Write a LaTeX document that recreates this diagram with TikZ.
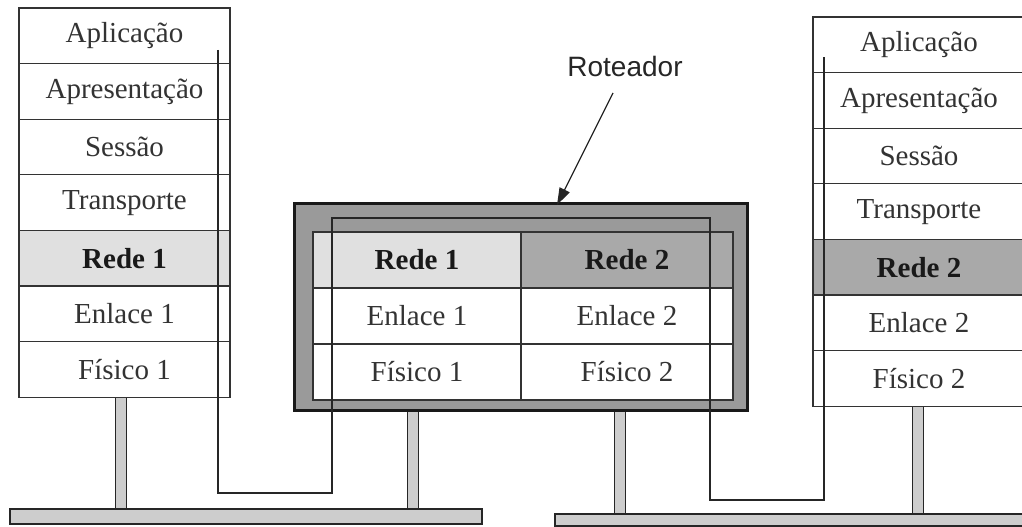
\documentclass[tikz,border=0pt]{standalone}
\usepackage{fontspec}
\setmainfont{Liberation Serif}
\newfontfamily\labelfont{Liberation Sans}
\usetikzlibrary{arrows.meta}

\definecolor{inkgray}{HTML}{333333}
\definecolor{netone}{HTML}{E0E0E0}
\definecolor{nettwo}{HTML}{A9A9A9}
\definecolor{framegray}{HTML}{9A9A9A}
\definecolor{stemgray}{HTML}{CDCDCD}

\tikzset{
  layer/.style={draw=black!80, line width=1.2pt, fill=white, inner sep=0pt,
    minimum width=211pt, minimum height=55.6pt, text=inkgray,
    font=\fontsize{29}{34}\selectfont},
  netlayer/.style={layer, font=\fontsize{29}{34}\selectfont\bfseries, text=black!90},
  cell/.style={layer, minimum height=56pt},
  netcell/.style={netlayer, minimum height=56pt},
  pathline/.style={draw=black!85, line width=2pt},
  stem/.style={draw=black!85, line width=1.8pt, fill=stemgray},
  bus/.style={draw=black!85, line width=2pt, fill=stemgray},
}

\begin{document}
\begin{tikzpicture}[x=1pt, y=-1pt]
\useasboundingbox (0,0) rectangle (1022,527);
\clip (0,0) rectangle (1022,527);

% ---- bus segments and drops (drawn first, stacks sit above them)
\draw[stem] (115.5,397) rectangle (126.5,512);
\draw[stem] (407.5,405) rectangle (418.5,512);
\draw[stem] (614.5,405) rectangle (625.5,516);
\draw[stem] (912.5,404) rectangle (923.5,516);
\draw[bus] (10,509) rectangle (482,524);
\draw[bus] (555,514) rectangle (1030,526);

% ---- host A protocol stack
\node[layer]    (a7) at (124.5,35.8)  {Aplicação};
\node[layer]    (a6) at (124.5,91.4)  {Apresentação};
\node[layer]    (a5) at (124.5,147.0) {Sessão};
\node[layer]    (a4) at (124.5,202.6) {Transporte};
\node[netlayer, fill=netone] (a3) at (124.5,258.2) {Rede 1};
\node[layer]    (a2) at (124.5,313.8) {Enlace 1};
\node[layer]    (a1) at (124.5,369.4) {Físico 1};

% ---- host B protocol stack
\node[layer, minimum width=212pt]    (b7) at (919,44.8)  {Aplicação};
\node[layer, minimum width=212pt]    (b6) at (919,100.4) {Apresentação};
\node[layer, minimum width=212pt]    (b5) at (919,156.0) {Sessão};
\node[layer, minimum width=212pt]    (b4) at (919,211.6) {Transporte};
\node[netlayer, minimum width=212pt, fill=nettwo] (b3) at (919,267.2) {Rede 2};
\node[layer, minimum width=212pt]    (b2) at (919,322.8) {Enlace 2};
\node[layer, minimum width=212pt]    (b1) at (919,378.4) {Físico 2};

% ---- router
\draw[draw=black!90, line width=3pt, fill=framegray] (294,203) rectangle (747,410);
\node[netcell, minimum width=208pt, fill=netone] (r13) at (417,260) {Rede 1};
\node[cell, minimum width=208pt] (r12) at (417,316) {Enlace 1};
\node[cell, minimum width=208pt] (r11) at (417,372) {Físico 1};
\node[netcell, minimum width=212pt, fill=nettwo] (r23) at (627,260) {Rede 2};
\node[cell, minimum width=212pt] (r22) at (627,316) {Enlace 2};
\node[cell, minimum width=212pt] (r21) at (627,372) {Físico 2};

% ---- data path through the two hosts and the router
\coordinate (pa) at (218,50);
\coordinate (pb) at (218,493);
\coordinate (pc) at (332,493);
\coordinate (pd) at (332,218);
\coordinate (pe) at (710,218);
\coordinate (pf) at (710,500);
\coordinate (pg) at (824,500);
\coordinate (ph) at (824,57);
\draw[pathline] (pa) -- (pb) -- (pc) -- (pd) -- (pe) -- (pf) -- (pg) -- (ph);

% ---- router label
\node[font=\labelfont\fontsize{28}{32}\selectfont, text=black!85] (lbl) at (625,66) {Roteador};
\coordinate (tip) at (557,205);
\draw[draw=black!85, line width=1.3pt, -{Triangle[length=17pt,width=11pt]}]
  (613,93) -- (tip);
\end{tikzpicture}
\end{document}
